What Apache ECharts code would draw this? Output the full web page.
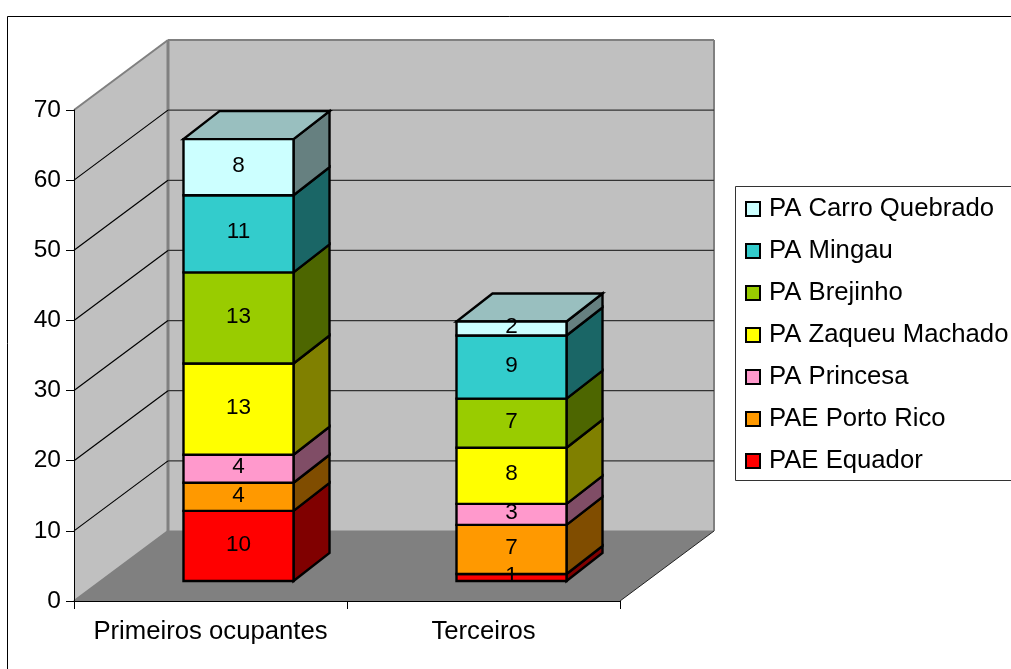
<!DOCTYPE html>
<html>
<head>
<meta charset="utf-8">
<style>html,body{margin:0;padding:0;background:#fff}#chart{width:1011px;height:669px}</style>
<script src="https://cdn.jsdelivr.net/npm/echarts@6/dist/echarts.min.js"></script>
</head>
<body>
<div id="chart"></div>
<script>
// Categories and tick values
const categories = ['Primeiros ocupantes', 'Terceiros'];
const yTicks = [0, 10, 20, 30, 40, 50, 60, 70];

// Stack members, bottom to top
const paeEquador = [10, 1];
const paePortoRico = [4, 7];
const paPrincesa = [4, 3];
const paZaqueuMachado = [13, 8];
const paBrejinho = [13, 7];
const paMingau = [11, 9];
const paCarroQuebrado = [8, 2];

const stackNames = ['PAE Equador', 'PAE Porto Rico', 'PA Princesa', 'PA Zaqueu Machado', 'PA Brejinho', 'PA Mingau', 'PA Carro Quebrado'];
const stackValues = [paeEquador, paePortoRico, paPrincesa, paZaqueuMachado, paBrejinho, paMingau, paCarroQuebrado];
const stackColors = ['#FF0000', '#FF9900', '#FF99CC', '#FFFF00', '#99CC00', '#33CCCC', '#CCFFFF'];
const legendOrder = stackNames.slice().reverse();

// Oblique projection of the box: wall depth, bar inset and bar depth in screen pixels
const WALL_DX = 94, WALL_DY = 70;
const INSET_DX = 28, INSET_DY = 20;
const BAR_DX = 36, BAR_DY = 28;
const BAR_RATIO = 0.403;
const FONT = '"Liberation Sans", Arial, sans-serif';

function shade(hex, k) {
  const n = parseInt(hex.slice(1), 16);
  const c = [(n >> 16) & 255, (n >> 8) & 255, n & 255].map(v => Math.round(v * k));
  return 'rgb(' + c.join(',') + ')';
}

function poly(points, fill, stroke, width, z2) {
  return {
    type: 'polygon', z2: z2 || 0,
    shape: { points },
    style: { fill, stroke: stroke || null, lineWidth: width || 0, lineJoin: 'miter' }
  };
}
function seg(a, b, stroke, width, z2) {
  return {
    type: 'line', z2: z2 || 0,
    shape: { x1: a[0], y1: a[1], x2: b[0], y2: b[1] },
    style: { stroke, lineWidth: width }
  };
}

// Walls and floor of the box, with edges, spanning the value axis range
function renderBox(params, api) {
  const cs = params.coordSys;
  const top = api.coord([0, yTicks[yTicks.length - 1]])[1];
  const bottom = api.coord([0, yTicks[0]])[1];
  const l = cs.x, r = cs.x + cs.width;
  const bl = [l + WALL_DX, bottom - WALL_DY], tl = [l + WALL_DX, top - WALL_DY];
  const br = [r + WALL_DX, bottom - WALL_DY], trc = [r + WALL_DX, top - WALL_DY];
  const edge = '#808080';
  return {
    type: 'group',
    children: [
      poly([tl, trc, br, bl], '#C0C0C0'),
      poly([[l, top], tl, bl, [l, bottom]], '#C0C0C0'),
      poly([[l, bottom], bl, br, [r, bottom]], '#808080'),
      seg(tl, trc, edge, 2, 2), seg(trc, br, edge, 2, 2),
      seg(tl, bl, edge, 3, 2), seg([l, top], tl, edge, 2, 2),
      seg([l, bottom], bl, edge, 2, 2), seg(bl, br, edge, 1, 2),
      seg([r, bottom], br, '#222', 1, 2)
    ]
  };
}

// One gridline per tick, running across the side wall and the back wall
function renderGrid(params, api) {
  const cs = params.coordSys;
  const y = api.coord([0, api.value(0)])[1];
  const l = cs.x, r = cs.x + cs.width;
  const a = [l, y], b = [l + WALL_DX, y - WALL_DY], c = [r + WALL_DX, y - WALL_DY];
  return {
    type: 'group',
    children: [seg(a, b, '#000', 1.2, 1), seg(b, c, '#333', 1.2, 1)]
  };
}

// A single stacked block: front, side and, for the last member, lid
function makeBlockRenderer(stackIdx) {
  return function (params, api) {
    const cat = api.value(0), from = api.value(1), to = api.value(2), val = api.value(3);
    const w = api.size([1, 0])[0] * BAR_RATIO;
    const p0 = api.coord([cat, from]), p1 = api.coord([cat, to]);
    const x0 = p0[0] - w / 2 + INSET_DX, x1 = x0 + w;
    const y0 = p0[1] - INSET_DY, y1 = p1[1] - INSET_DY;
    const base = stackColors[stackIdx];
    const kids = [
      poly([[x1, y0], [x1 + BAR_DX, y0 - BAR_DY], [x1 + BAR_DX, y1 - BAR_DY], [x1, y1]], shade(base, 0.5), '#000', 2.4, 10),
      poly([[x0, y0], [x1, y0], [x1, y1], [x0, y1]], base, '#000', 2.4, 11)
    ];
    if (stackIdx === stackNames.length - 1) {
      kids.push(poly([[x0, y1], [x1, y1], [x1 + BAR_DX, y1 - BAR_DY], [x0 + BAR_DX, y1 - BAR_DY]], shade(base, 0.75), '#000', 2.4, 10));
    }
    kids.push({
      type: 'text', z2: 100,
      style: {
        x: (x0 + x1) / 2, y: (y0 + y1) / 2 - 1.5,
        text: String(val), fill: '#000', font: '22.5px ' + FONT,
        align: 'center', verticalAlign: 'middle'
      }
    });
    return { type: 'group', children: kids };
  };
}

const blockSeries = stackNames.map((name, i) => ({
  name, type: 'custom', z: 3,
  coordinateSystem: 'cartesian2d',
  renderItem: makeBlockRenderer(i),
  itemStyle: { color: stackColors[i] },
  encode: { x: 0, y: [1, 2] },
  data: categories.map((_, c) => {
    const from = stackValues.slice(0, i).reduce((s, arr) => s + arr[c], 0);
    return [c, from, from + stackValues[i][c], stackValues[i][c]];
  })
}));

const chart = echarts.init(document.getElementById('chart'), null, { renderer: 'canvas' });
chart.setOption({
  animation: false,
  backgroundColor: '#fff',
  grid: { left: 74, top: 110, width: 546, height: 491, containLabel: false },
  xAxis: {
    type: 'category', data: categories, z: 4,
    axisLine: { show: true, lineStyle: { color: '#000', width: 1 } },
    axisTick: { show: true, length: 8, interval: 0, alignWithLabel: false, lineStyle: { color: '#000' } },
    axisLabel: { color: '#000', fontFamily: FONT, fontSize: 25.7, margin: 18, interval: 0, hideOverlap: false },
    splitLine: { show: false }
  },
  yAxis: {
    type: 'value', min: 0, max: 70, interval: 10, z: 4,
    axisLine: { show: true, lineStyle: { color: '#000', width: 1 } },
    axisTick: { show: true, length: 8, lineStyle: { color: '#000' } },
    axisLabel: { color: '#000', fontFamily: FONT, fontSize: 24.5, margin: 13, padding: [0, 0, 4, 0] },
    splitLine: { show: false }
  },
  legend: {
    orient: 'vertical', left: 745, top: 196, padding: 0,
    data: legendOrder, icon: 'rect',
    itemWidth: 14, itemHeight: 14, itemGap: 16, selectedMode: false,
    itemStyle: { borderColor: '#000', borderWidth: 2 },
    textStyle: { color: '#000', fontFamily: FONT, fontSize: 25.7, padding: [0, 0, 5, 4] }
  },
  graphic: [
    { type: 'rect', silent: true, z: 0, shape: { x: 7.5, y: 16.5, width: 1100, height: 1000 }, style: { fill: 'none', stroke: '#000', lineWidth: 1 } },
    { type: 'rect', silent: true, z: 0, shape: { x: 735.5, y: 186.5, width: 400, height: 294 }, style: { fill: '#fff', stroke: '#333', lineWidth: 1 } }
  ],
  series: [
    { name: 'box', type: 'custom', z: 1, coordinateSystem: 'cartesian2d', renderItem: renderBox, data: [[0, yTicks[yTicks.length - 1]]], silent: true },
    { name: 'grid', type: 'custom', z: 2, coordinateSystem: 'cartesian2d', renderItem: renderGrid, encode: { y: 0 }, data: yTicks.slice(1, -1).map(v => [v]), silent: true }
  ].concat(blockSeries)
});
</script>
</body>
</html>
